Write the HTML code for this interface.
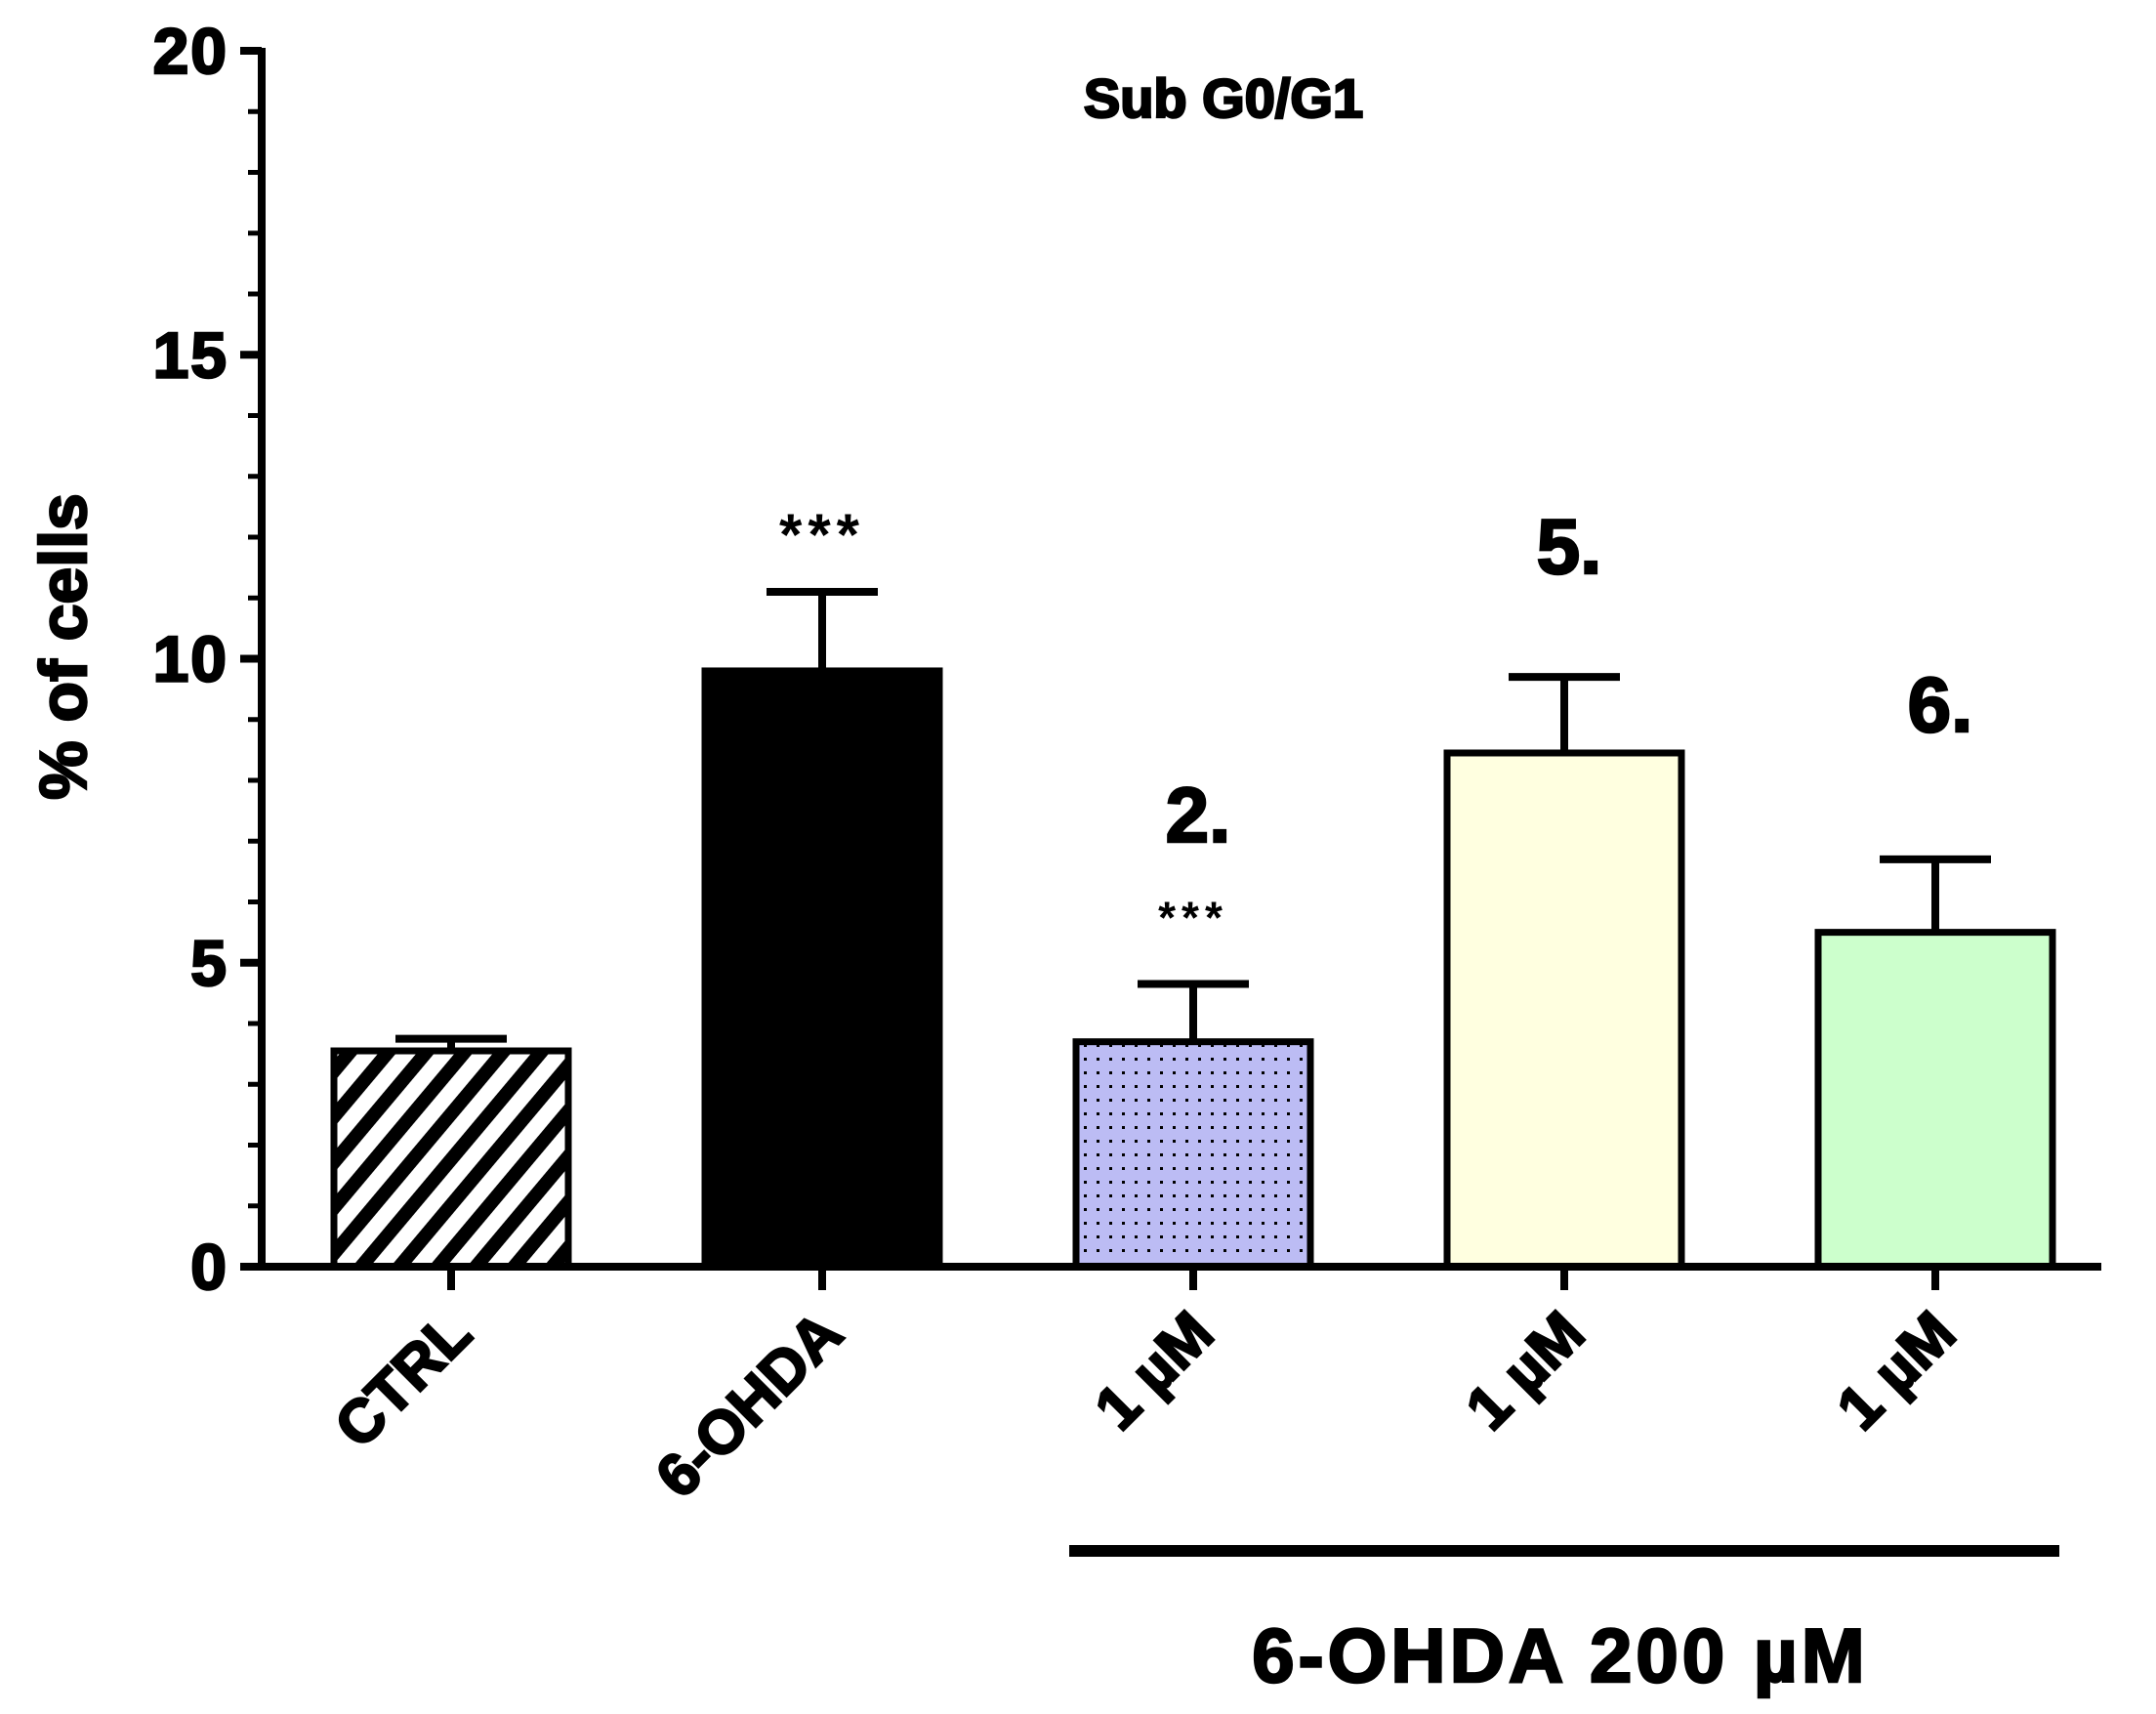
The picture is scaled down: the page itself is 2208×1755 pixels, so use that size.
<!DOCTYPE html>
<html><head><meta charset="utf-8"><style>
html,body{margin:0;padding:0;background:#fff}
svg{display:block}
text{font-family:"Liberation Sans",Arial,sans-serif;font-weight:bold;fill:#000;stroke:#000;stroke-width:2.5px}
</style></head><body>
<svg id="chart" width="2208" height="1755" viewBox="0 0 2208 1755" xmlns="http://www.w3.org/2000/svg">
<defs>
<pattern id="hatch" patternUnits="userSpaceOnUse" width="30" height="30" patternTransform="rotate(-50)">
<rect width="30" height="30" fill="#fff"/><rect width="30" height="14" fill="#000"/>
</pattern>
<pattern id="dots" patternUnits="userSpaceOnUse" width="13" height="14">
<rect width="13" height="14" fill="#bcbcf4"/><rect x="5" y="5" width="3" height="3" fill="#000"/>
</pattern>
</defs>
<g id="plot"></g>
</svg>
<script>
const categories = ["CTRL","6-OHDA","1 µM","1 µM","1 µM"];
const means = [3.55, 9.8, 3.7, 8.45, 5.5];
const errs = [0.2, 1.3, 0.95, 1.25, 1.2];
const fills = ["url(#hatch)","#000","url(#dots)","#ffffe0","#ccffcc"];
const yTicks = [0,5,10,15,20];
const labelsAbove = ["","","2.","5.","6."];
const stars = ["","***","***","",""];

const NS="http://www.w3.org/2000/svg";
const g=document.getElementById('plot');
const x0=268, y0=1297, yTop=52, xEnd=2152;
const yS=v=>y0-(y0-yTop)*v/20;
const xC=i=>462+i*380;
const bw=248;
function el(t,a,p){const e=document.createElementNS(NS,t);for(const k in a)e.setAttribute(k,a[k]);(p||g).appendChild(e);return e;}

const ya=el('line',{x1:x0,y1:yTop-3,x2:x0,y2:y0+4,stroke:'#000','stroke-width':8});


for(let v=0;v<=20;v++){
  const major=v%5===0;
  const t=el('line',{x1:major?x0-22:x0-14,y1:yS(v),x2:x0,y2:yS(v),stroke:'#000','stroke-width':major?8:5});
  
  
}
yTicks.forEach(v=>{
  const t=el('text',{x:234,y:yS(v)+23,'text-anchor':'end','font-size':66,'letter-spacing':2});
  t.textContent=v;
  
  
});
const yt=el('text',{x:0,y:0,'text-anchor':'middle','font-size':68,transform:'translate(88,662) rotate(-90)'});
yt.textContent='% of cells';



const tt=el('text',{x:1253,y:120,'text-anchor':'middle','font-size':56});
tt.textContent='Sub G0/G1';



means.forEach((m,i)=>{
  const cx=xC(i), top=yS(m), tp=yS(m+errs[i]);
  const eb=el('line',{x1:cx,y1:top,x2:cx,y2:tp,stroke:'#000','stroke-width':8});
  
  
  const cap=el('line',{x1:cx-57,y1:tp,x2:cx+57,y2:tp,stroke:'#000','stroke-width':8});
  
  
  const r=el('rect',{x:cx-bw/2+4,y:top,width:bw-8,height:y0-top,fill:fills[i],stroke:'#000','stroke-width':7});
  
  
  const tk=el('line',{x1:cx,y1:y0,x2:cx,y2:y0+24,stroke:'#000','stroke-width':8});
  
  
  const lb=el('text',{x:0,y:0,'text-anchor':'end','font-size':62,transform:`translate(${cx+24},${y0+72}) rotate(-45)`});
  lb.textContent=categories[i];
  
  
  if(stars[i]){
    const s=el('text',{x:cx,y:i===1?tp-38:tp-52,'text-anchor':'middle','font-size':i===1?60:46,'font-weight':'normal',style:'stroke:none','letter-spacing':6});
    s.textContent=stars[i];
    
    
  }
  if(labelsAbove[i]){
    const ly={2:862,3:587,4:749}[i];
    const a=el('text',{x:cx+5,y:ly,'text-anchor':'middle','font-size':80});
    a.textContent=labelsAbove[i];
    
    
  }
});
const xa=el('line',{x1:x0-22,y1:y0,x2:xEnd,y2:y0,stroke:'#000','stroke-width':8});



const br=el('line',{x1:1095,y1:1588,x2:2109,y2:1588,stroke:'#000','stroke-width':12});


const gl=el('text',{x:1598,y:1722,'text-anchor':'middle','font-size':78,'letter-spacing':4});
gl.textContent='6-OHDA 200 µM';


</script>
</body></html>
